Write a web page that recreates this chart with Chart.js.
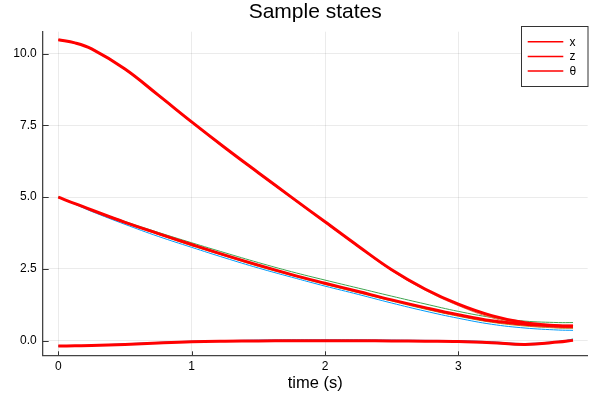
<!DOCTYPE html>
<html>
<head>
<meta charset="utf-8">
<script src="https://cdn.jsdelivr.net/npm/chart.js@4/dist/chart.umd.min.js"></script>
<style>
  html,body{margin:0;padding:0;background:#fff;}
  #wrap{width:600px;height:400px;position:relative;}
</style>
</head>
<body>
<div id="wrap"><canvas id="c" width="600" height="400"></canvas></div>
<script>
// sample times (s)
const times = [0, 0.125, 0.25, 0.5, 0.75, 1.0, 1.25, 1.5, 1.75, 2.0, 2.25, 2.5, 2.75, 3.0, 3.25, 3.5, 3.75, 3.86];

// reference trajectory (red, labelled)
const refX     = [10.48, 10.37, 10.16, 9.46, 8.55, 7.62, 6.72, 5.85, 4.99, 4.14, 3.29, 2.47, 1.80, 1.27, 0.87, 0.62, 0.52, 0.51];
const refZ     = [5.0, 4.77, 4.55, 4.12, 3.73, 3.35, 2.98, 2.63, 2.30, 2.00, 1.71, 1.42, 1.15, 0.90, 0.69, 0.57, 0.51, 0.50];
const refTheta = [-0.19, -0.18, -0.17, -0.13, -0.08, -0.04, -0.02, -0.01, 0.0, 0.0, 0.0, -0.01, -0.02, -0.03, -0.07, -0.13, -0.05, 0.01];

// sample trajectories (thin, unlabelled)
const xOrange  = [10.48, 10.36, 10.14, 9.43, 8.52, 7.59, 6.69, 5.82, 4.96, 4.11, 3.26, 2.44, 1.76, 1.22, 0.80, 0.54, 0.45, 0.44];
const xGold    = [10.48, 10.36, 10.15, 9.44, 8.53, 7.60, 6.70, 5.83, 4.97, 4.12, 3.27, 2.45, 1.78, 1.25, 0.84, 0.58, 0.48, 0.46];
const zGreen   = [5.0, 4.78, 4.56, 4.15, 3.77, 3.41, 3.06, 2.72, 2.40, 2.11, 1.83, 1.55, 1.28, 1.02, 0.81, 0.68, 0.63, 0.63];
const zGold    = [5.0, 4.76, 4.53, 4.10, 3.70, 3.31, 2.95, 2.59, 2.27, 1.96, 1.67, 1.38, 1.10, 0.85, 0.64, 0.51, 0.44, 0.43];
const zBlue    = [5.0, 4.75, 4.50, 4.05, 3.63, 3.25, 2.88, 2.53, 2.21, 1.90, 1.61, 1.31, 1.03, 0.78, 0.57, 0.44, 0.37, 0.36];
const thBlue   = [-0.19, -0.18, -0.16, -0.11, -0.06, -0.02, 0.0, 0.02, 0.03, 0.03, 0.03, 0.02, 0.01, 0.0, -0.04, -0.10, -0.02, 0.04];
const thTeal   = [-0.19, -0.18, -0.17, -0.13, -0.08, -0.04, -0.02, -0.01, 0.0, 0.0, 0.0, -0.01, -0.02, -0.04, -0.09, -0.15, -0.05, 0.06];

const xTicks = [0, 1, 2, 3];
const xTickLabels = ['0', '1', '2', '3'];
const yTicks = [0, 2.5, 5, 7.5, 10];
const yTickLabels = ['0.0', '2.5', '5.0', '7.5', '10.0'];
const legendLabels = ['x', 'z', 'θ'];
const titleText = 'Sample states';
const xAxisLabel = 'time (s)';

const FONT = '"Liberation Sans", Arial, sans-serif';
const pts = arr => arr.map((v, i) => ({x: times[i], y: v}));

const thin = (data, color) => ({data: pts(data), borderColor: color, borderWidth: 1,
  pointRadius: 0, tension: 0.4, fill: false, order: 1});
const thick = (data, label) => ({label, data: pts(data), borderColor: '#ff0000', borderWidth: 3,
  pointRadius: 0, tension: 0.4, fill: false, order: 0});

const decor = {
  id: 'decor',
  afterDraw(chart){
    const {ctx, chartArea: a, scales: {x, y}} = chart;
    ctx.save();
    // inward tick marks
    ctx.strokeStyle = '#333'; ctx.lineWidth = 1;
    yTicks.forEach(v => {
      const py = Math.round(y.getPixelForValue(v)) + 0.5;
      ctx.beginPath(); ctx.moveTo(a.left, py); ctx.lineTo(a.left + 6, py); ctx.stroke();
    });
    xTicks.forEach(v => {
      const px = Math.round(x.getPixelForValue(v)) + 0.5;
      ctx.beginPath(); ctx.moveTo(px, a.bottom); ctx.lineTo(px, a.bottom - 4); ctx.stroke();
    });
    // title + axis label
    const cx = (a.left + a.right) / 2;
    ctx.fillStyle = '#000'; ctx.textAlign = 'center'; ctx.textBaseline = 'middle';
    ctx.font = '21px ' + FONT;
    ctx.fillText(titleText, cx, 12);
    ctx.font = '16.5px ' + FONT;
    ctx.fillText(xAxisLabel, cx, 383);
    // legend
    const bx = 521.5, by = 26.5, bw = 66.5, bh = 60;
    ctx.fillStyle = '#fff'; ctx.fillRect(bx, by, bw, bh);
    ctx.strokeStyle = '#333'; ctx.lineWidth = 1; ctx.strokeRect(bx, by, bw, bh);
    ctx.font = '12px ' + FONT; ctx.textAlign = 'left';
    legendLabels.forEach((lab, i) => {
      const ly = 41.7 + i * 14.7;
      ctx.strokeStyle = '#ff0000'; ctx.lineWidth = 1.5;
      ctx.beginPath(); ctx.moveTo(527.7, ly); ctx.lineTo(563.3, ly); ctx.stroke();
      ctx.fillStyle = '#000';
      ctx.fillText(lab, 569.5, ly + 0.5);
    });
    ctx.restore();
  }
};

new Chart(document.getElementById('c'), {
  type: 'line',
  data: {
    datasets: [
      thick(refX, legendLabels[0]),
      thick(refZ, legendLabels[1]),
      thick(refTheta, legendLabels[2]),
      thin(xOrange, '#E36F47'),
      thin(xGold, '#AC8E18'),
      thin(zGreen, '#3EA44E'),
      thin(zGold, '#AC8E18'),
      thin(zBlue, '#009AFA'),
      thin(thBlue, '#009AFA'),
      thin(thTeal, '#00A9AD')
    ]
  },
  options: {
    responsive: false,
    animation: false,
    devicePixelRatio: 1,
    layout: {padding: {left: 0, right: 12.3, top: 31.7, bottom: 0}},
    plugins: {legend: {display: false}, tooltip: {enabled: false}, title: {display: false}},
    scales: {
      x: {
        type: 'linear', min: -0.117, max: 3.97,
        afterBuildTicks: ax => { ax.ticks = xTicks.map(v => ({value: v})); },
        afterFit: ax => { ax.height = 44.7; },
        ticks: {color: '#000', font: {family: FONT, size: 12}, padding: 4,
          callback: (v) => xTickLabels[xTicks.indexOf(v)], maxRotation: 0},
        grid: {color: 'rgba(0,0,0,0.08)', lineWidth: 1, drawTicks: false},
        border: {display: true, color: '#444', width: 1.3}
      },
      y: {
        type: 'linear', min: -0.51, max: 10.76,
        afterBuildTicks: ax => { ax.ticks = yTicks.map(v => ({value: v})); },
        afterFit: ax => { ax.width = 42.7; },
        ticks: {color: '#000', font: {family: FONT, size: 12}, padding: 6,
          callback: (v) => yTickLabels[yTicks.indexOf(v)]},
        grid: {color: 'rgba(0,0,0,0.08)', lineWidth: 1, drawTicks: false},
        border: {display: true, color: '#444', width: 1.3}
      }
    }
  },
  plugins: [decor]
});
</script>
</body>
</html>
